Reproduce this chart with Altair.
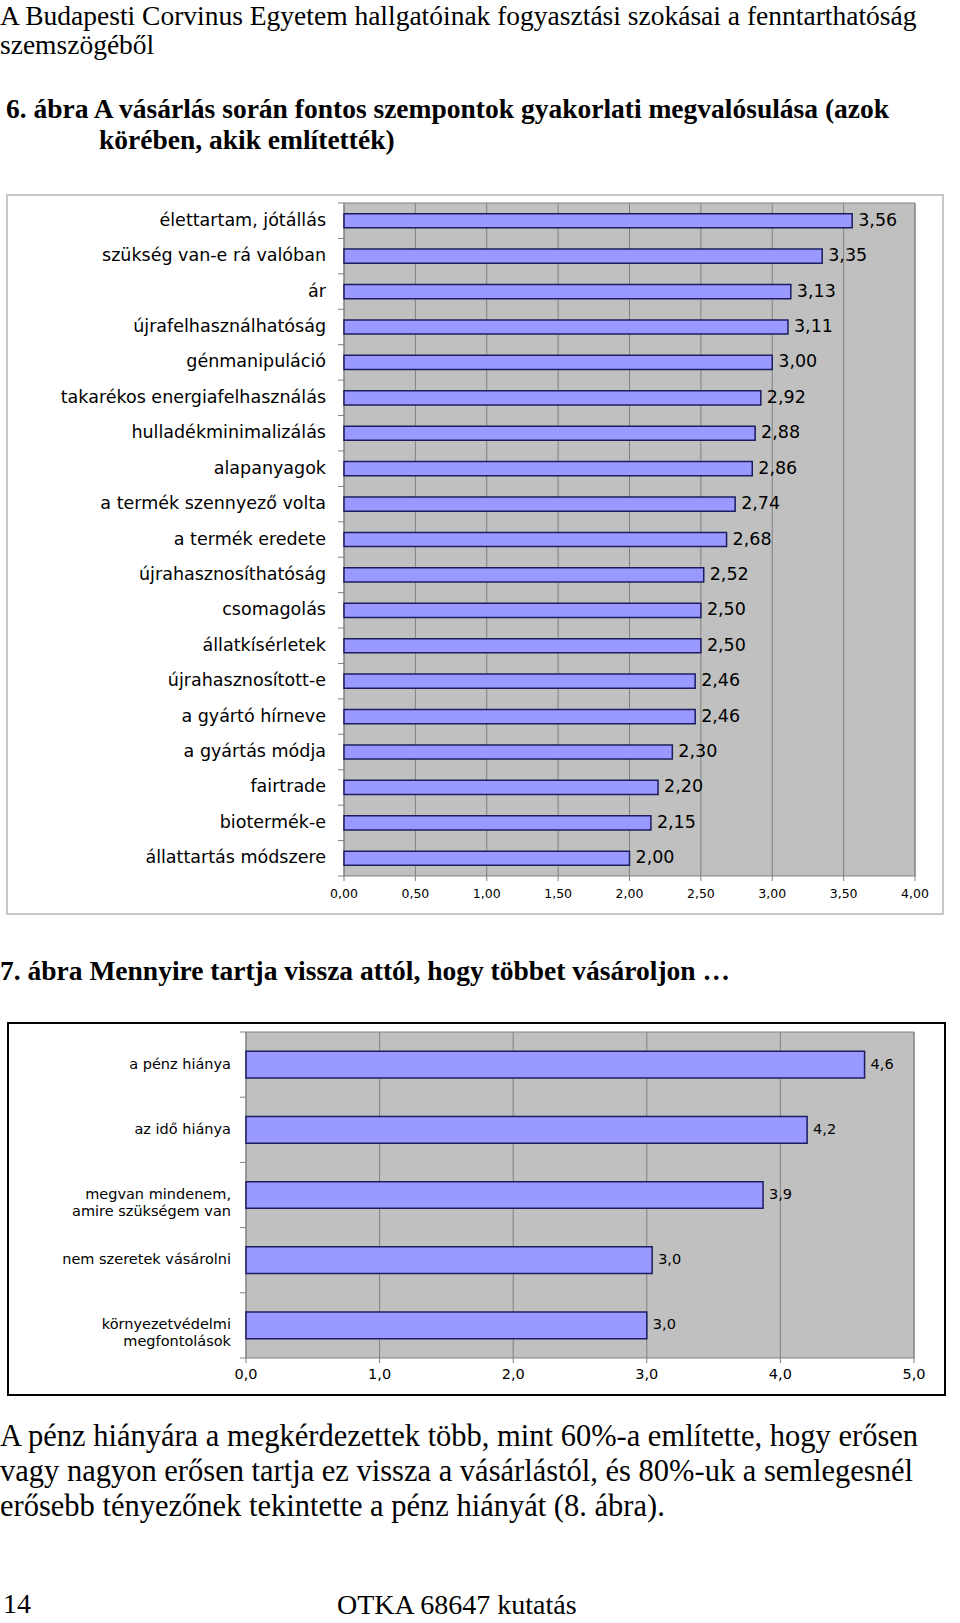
import altair as alt
import pandas as pd

# ---------------- data ----------------
header_lines = [
    "A Budapesti Corvinus Egyetem hallgatóinak fogyasztási szokásai a fenntarthatóság",
    "szemszögéből",
]
caption6_lines = [
    "6. ábra A vásárlás során fontos szempontok gyakorlati megvalósulása (azok",
    "körében, akik említették)",
]
cats1 = [
    "élettartam, jótállás", "szükség van-e rá valóban", "ár", "újrafelhasználhatóság",
    "génmanipuláció", "takarékos energiafelhasználás", "hulladékminimalizálás",
    "alapanyagok", "a termék szennyező volta", "a termék eredete",
    "újrahasznosíthatóság", "csomagolás", "állatkísérletek", "újrahasznosított-e",
    "a gyártó hírneve", "a gyártás módja", "fairtrade", "biotermék-e",
    "állattartás módszere",
]
vals1 = [3.56, 3.35, 3.13, 3.11, 3.00, 2.92, 2.88, 2.86, 2.74, 2.68,
         2.52, 2.50, 2.50, 2.46, 2.46, 2.30, 2.20, 2.15, 2.00]
ticks1 = [0, 0.5, 1, 1.5, 2, 2.5, 3, 3.5, 4]

caption7 = "7. ábra Mennyire tartja vissza attól, hogy többet vásároljon …"
cats2 = [
    "a pénz hiánya", "az idő hiánya", "megvan mindenem,\namire szükségem van",
    "nem szeretek vásárolni", "környezetvédelmi\nmegfontolások",
]
vals2 = [4.63, 4.20, 3.87, 3.04, 3.00]
ticks2 = [0, 1, 2, 3, 4, 5]

paragraph_lines = [
    "A pénz hiányára a megkérdezettek több, mint 60%-a említette, hogy erősen",
    "vagy nagyon erősen tartja ez vissza a vásárlástól, és 80%-uk a semlegesnél",
    "erősebb tényezőnek tekintette a pénz hiányát (8. ábra).",
]
page_number = "14"
footer_text = "OTKA 68647 kutatás"

# ---------------- helpers ----------------
SERIF = "Liberation Serif"
SANS = "DejaVu Sans"
one = pd.DataFrame({"k": [0]})


def text_line(s, x, y, size, weight="normal", align="left"):
    return alt.Chart(pd.DataFrame({"t": [s]})).mark_text(
        align=align, baseline="middle", font=SERIF, fontSize=size,
        fontWeight=weight, color="black"
    ).encode(x=alt.value(x), y=alt.value(y), text="t:N")


def box(x, x2, y, y2, fill, stroke, sw):
    return alt.Chart(one).mark_rect(fill=fill, stroke=stroke, strokeWidth=sw).encode(
        x=alt.value(x), x2=alt.value(x2), y=alt.value(y), y2=alt.value(y2)
    )


def bar_panel(cats, vals, ticks, xr, yr, dom, fmt_val, fmt_tick, lab_x,
              cat_size, val_size, tick_size, tick_y, pad_inner):
    df = pd.DataFrame({"c": cats, "v": vals})
    dft = pd.DataFrame({"t": ticks})
    dfb = pd.DataFrame({"b": list(range(len(cats) + 1))})
    sx = alt.Scale(domain=dom, range=xr, nice=False, zero=True)
    sy = alt.Scale(domain=cats, range=yr, paddingInner=pad_inner, paddingOuter=pad_inner / 2)
    sb = alt.Scale(domain=[0, len(cats)], range=yr, nice=False, zero=False)
    X = alt.X("v:Q", scale=sx, axis=None)
    Y = alt.Y("c:N", scale=sy, axis=None, sort=None)
    layers = []
    layers.append(box(xr[0], xr[1], yr[0], yr[1], "#c0c0c0", "#808080", 1))
    layers.append(alt.Chart(dft).mark_rule(color="#808080", strokeWidth=1).encode(
        x=alt.X("t:Q", scale=sx, axis=None), y=alt.value(yr[0]), y2=alt.value(yr[1])))
    layers.append(alt.Chart(dft).mark_rule(color="#808080", strokeWidth=1).encode(
        x=alt.X("t:Q", scale=sx, axis=None), y=alt.value(yr[1]), y2=alt.value(yr[1] + 5)))
    layers.append(alt.Chart(dfb).mark_rule(color="#808080", strokeWidth=1).encode(
        y=alt.Y("b:Q", scale=sb, axis=None), x=alt.value(xr[0] - 6), x2=alt.value(xr[0])))
    layers.append(alt.Chart(df).mark_bar(
        fill="#9999ff", stroke="#1c1c60", strokeWidth=1.5).encode(x=X, y=Y))
    layers.append(alt.Chart(df).transform_calculate(
        lab=f"replace(format(datum.v, '{fmt_val}'), '.', ',')"
    ).mark_text(align="left", baseline="middle", dx=6, font=SANS,
                fontSize=val_size, color="black").encode(x=X, y=Y, text="lab:N"))
    layers.append(alt.Chart(df).mark_text(
        align="right", baseline="middle", font=SANS, fontSize=cat_size,
        color="black", lineBreak="\n", lineHeight=cat_size + 2
    ).encode(x=alt.value(lab_x), y=Y, text="c:N"))
    layers.append(alt.Chart(dft).transform_calculate(
        lab=f"replace(format(datum.t, '{fmt_tick}'), '.', ',')"
    ).mark_text(align="center", baseline="middle", font=SANS,
                fontSize=tick_size, color="black").encode(
        x=alt.X("t:Q", scale=sx, axis=None), y=alt.value(tick_y), text="lab:N"))
    return layers


layers = []
# header and caption
layers.append(text_line(header_lines[0], 0, 17, 27.5))
layers.append(text_line(header_lines[1], 0, 46, 27.5))
layers.append(text_line(caption6_lines[0], 6, 110, 27.5, weight="bold"))
layers.append(text_line(caption6_lines[1], 99, 141, 27.5, weight="bold"))

# chart 1
layers.append(box(7, 943, 195, 914, "white", "#c8c8c8", 2))
layers += bar_panel(cats1, vals1, ticks1, [344, 915], [203, 876], [0, 4],
                    ".2f", ".2f", 326, 17.5, 17.5, 12.5, 894, 0.6)

# chart 2
layers.append(text_line(caption7, 0, 972, 27.5, weight="bold"))
layers.append(box(8, 945, 1023, 1395, "white", "black", 2))
layers += bar_panel(cats2, vals2, ticks2, [246, 914], [1032, 1358], [0, 5],
                    ".1f", ".1f", 231, 14.5, 14.5, 14.5, 1375, 0.59)

# paragraph & footer
layers.append(text_line(paragraph_lines[0], 0, 1437, 30.5))
layers.append(text_line(paragraph_lines[1], 0, 1472, 30.5))
layers.append(text_line(paragraph_lines[2], 0, 1507, 30.5))
layers.append(text_line(page_number, 3, 1605, 28))
layers.append(text_line(footer_text, 337, 1606, 28))

chart = alt.layer(*layers).resolve_scale(
    x="independent", y="independent"
).properties(
    width=960, height=1623,
    autosize=alt.AutoSizeParams(type="none"),
    padding=0,
).configure_view(strokeWidth=0)

chart.save("out.html", embed_options={"renderer": "svg", "actions": False})
